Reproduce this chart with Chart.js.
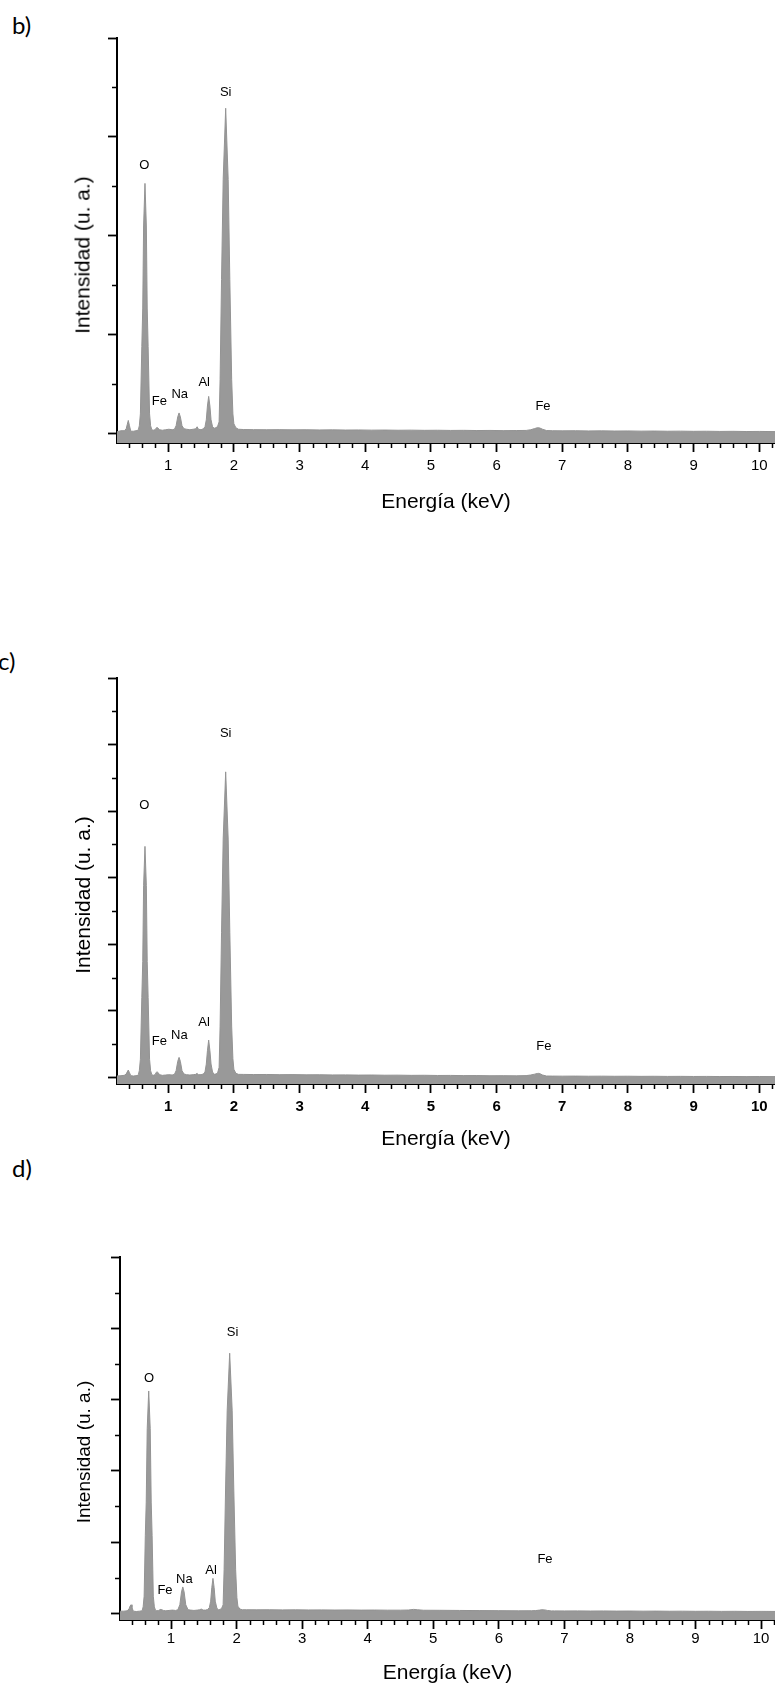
<!DOCTYPE html>
<html lang="es">
<head>
<meta charset="UTF-8">
<title>Espectros EDS</title>
<script src="https://cdn.jsdelivr.net/npm/chart.js"></script>
<style>
body {
    margin: 0;
    width: 775px;
    height: 1686px;
    overflow: hidden;
    position: relative;
    background: #fff;
    font-family: 'Liberation Sans', Arial, sans-serif;
    color: #000;
}
canvas {
    position: absolute;
    left: 0;
}
.panel-label {
    position: absolute;
    font-family: Lato, 'Open Sans', sans-serif;
    font-size: 24px;
    line-height: 1;
}
.ytitle {
    position: absolute;
    transform: translate(-50%, -50%) rotate(-90deg);
    white-space: nowrap;
    font-size: 21px;
    line-height: 1;
}
</style>
</head>
<body>
<div class="panel-label" style="left:12px; top:13px;">b)</div>
<div class="panel-label" style="left:-2px; top:649px;">c)</div>
<div class="panel-label" style="left:12px; top:1156px;">d)</div>

<canvas id="chartB" width="775" height="481" style="top:34px"></canvas>
<canvas id="chartC" width="775" height="478" style="top:674px"></canvas>
<canvas id="chartD" width="775" height="433" style="top:1253px"></canvas>

<div class="ytitle" style="left:82px; top:255px;">Intensidad (u. a.)</div>
<div class="ytitle" style="left:82px; top:895px;">Intensidad (u. a.)</div>
<div class="ytitle" style="left:83px; top:1452px; font-size:19px;">Intensidad (u. a.)</div>

<script>
// ejes comunes
const energiaTicks = [1, 2, 3, 4, 5, 6, 7, 8, 9, 10];
const energiaMinor = [0.4, 0.6, 0.8, 1.2, 1.4, 1.6, 1.8, 2.2, 2.4, 2.6, 2.8, 3.2, 3.4, 3.6, 3.8,
    4.2, 4.4, 4.6, 4.8, 5.2, 5.4, 5.6, 5.8, 6.2, 6.4, 6.6, 6.8, 7.2, 7.4, 7.6, 7.8,
    8.2, 8.4, 8.6, 8.8, 9.2, 9.4, 9.6, 9.8, 10.2];
const etiquetas = ['O', 'Si', 'Fe', 'Na', 'Al', 'Fe'];

// b)
const ticksB = [0, 1, 2, 3, 4];
const minorB = [0.5, 1.5, 2.5, 3.5];
const energiaB = [
    0.22, 0.28, 0.33, 0.36, 0.375, 0.392, 0.41, 0.43, 0.47, 0.51, 0.54,
    0.545, 0.56, 0.576, 0.598, 0.612, 0.625, 0.646, 0.667, 0.68, 0.694, 0.716, 0.732, 0.75,
    0.77, 0.80, 0.815, 0.83, 0.845, 0.87, 0.91, 0.96, 1.01, 1.06, 1.095,
    1.12, 1.145, 1.165, 1.185, 1.21, 1.24,
    1.28, 1.33, 1.38, 1.42, 1.44, 1.46, 1.5, 1.535,
    1.56, 1.58, 1.597, 1.616, 1.635, 1.652, 1.675, 1.70, 1.72,
    1.75, 1.775, 1.79, 1.812, 1.837, 1.875, 1.913, 1.938, 1.966, 1.985, 2.0, 2.03, 2.07,
    2.15, 2.3, 2.5, 2.7, 2.9, 3.1, 3.3, 3.5, 3.7, 3.9, 4.1, 4.3, 4.5, 4.7, 4.9, 5.1, 5.3, 5.5, 5.7, 5.9, 6.1, 6.3, 6.45,
    6.52, 6.58, 6.62, 6.64, 6.66, 6.7, 6.76,
    6.85, 7.0, 7.2, 7.4, 7.6, 7.8, 8.0, 8.2, 8.4, 8.6, 8.8, 9.0, 9.2, 9.4, 9.6, 9.8, 10.0, 10.24
];
const intensidadB = [
    0.02, 0.03, 0.03, 0.05, 0.09, 0.134, 0.08, 0.025, 0.025, 0.03, 0.035,
    0.04, 0.08, 0.2, 0.88, 1.27, 2.1, 2.53, 2.1, 1.27, 0.88, 0.2, 0.08, 0.04,
    0.035, 0.04, 0.055, 0.065, 0.055, 0.04, 0.035, 0.04, 0.045, 0.04, 0.045,
    0.08, 0.17, 0.21, 0.17, 0.08, 0.05,
    0.045, 0.04, 0.045, 0.05, 0.07, 0.045, 0.04, 0.05,
    0.07, 0.14, 0.28, 0.377, 0.28, 0.14, 0.07, 0.055, 0.06,
    0.07, 0.12, 0.55, 1.56, 2.57, 3.29, 2.57, 1.56, 0.55, 0.2, 0.1, 0.06, 0.045,
    0.042, 0.041, 0.04, 0.041, 0.039, 0.04, 0.038, 0.039, 0.037, 0.038, 0.036, 0.037, 0.035, 0.036, 0.034, 0.035, 0.033, 0.034, 0.032, 0.033, 0.031, 0.032, 0.033,
    0.04, 0.052, 0.06, 0.061, 0.057, 0.045, 0.032,
    0.03, 0.029, 0.03, 0.028, 0.029, 0.027, 0.028, 0.026, 0.027, 0.025, 0.026, 0.024, 0.025, 0.023, 0.024, 0.022, 0.023, 0.021
];
const etiqXB = [0.636, 1.875, 0.864, 1.175, 1.548, 6.707];
const etiqYB = [2.71, 3.45, 0.33, 0.40, 0.52, 0.28];

// c)
const ticksC = [0, 1, 2, 3, 4, 5, 6];
const minorC = [0.5, 1.5, 2.5, 3.5, 4.5, 5.5];
const energiaC = energiaB;
const intensidadC = [
    0.02, 0.025, 0.03, 0.05, 0.08, 0.11, 0.07, 0.025, 0.02, 0.025, 0.03,
    0.04, 0.1, 0.27, 1.2, 1.74, 2.88, 3.47, 2.88, 1.74, 1.2, 0.27, 0.1, 0.04,
    0.03, 0.04, 0.07, 0.085, 0.07, 0.04, 0.03, 0.035, 0.04, 0.035, 0.045,
    0.1, 0.24, 0.30, 0.24, 0.1, 0.05,
    0.04, 0.035, 0.04, 0.045, 0.06, 0.04, 0.04, 0.05,
    0.08, 0.2, 0.4, 0.56, 0.4, 0.2, 0.08, 0.045, 0.05,
    0.06, 0.15, 0.77, 2.18, 3.58, 4.59, 3.58, 2.18, 0.77, 0.28, 0.12, 0.06, 0.045,
    0.044, 0.042, 0.043, 0.04, 0.041, 0.038, 0.039, 0.036, 0.037, 0.034, 0.035, 0.032, 0.033, 0.03, 0.031, 0.028, 0.029, 0.026, 0.027, 0.024, 0.025, 0.023, 0.026,
    0.035, 0.048, 0.058, 0.06, 0.055, 0.035, 0.02,
    0.019, 0.018, 0.019, 0.017, 0.018, 0.016, 0.017, 0.015, 0.016, 0.014, 0.015, 0.013, 0.014, 0.012, 0.013, 0.011, 0.012, 0.011
];
const etiqXC = [0.636, 1.875, 0.864, 1.169, 1.545, 6.72];
const etiqYC = [4.08, 5.17, 0.535, 0.636, 0.82, 0.47];

// d)
const ticksD = [0, 1, 2, 3, 4, 5];
const minorD = [0.5, 1.5, 2.5, 3.5, 4.5];
const energiaD = [
    0.222, 0.28, 0.33, 0.36, 0.375, 0.39, 0.405, 0.425, 0.47, 0.52, 0.555,
    0.56, 0.575, 0.59, 0.608, 0.622, 0.637, 0.66, 0.683, 0.698, 0.712, 0.73, 0.746, 0.765,
    0.785, 0.81, 0.83, 0.846, 0.86, 0.885, 0.92, 0.97, 1.02, 1.07, 1.105,
    1.135, 1.16, 1.18, 1.2, 1.225, 1.26,
    1.3, 1.35, 1.4, 1.44, 1.46, 1.49, 1.53, 1.56,
    1.585, 1.605, 1.622, 1.64, 1.658, 1.675, 1.7, 1.725, 1.745,
    1.77, 1.795, 1.81, 1.832, 1.857, 1.895, 1.933, 1.958, 1.986, 2.005, 2.02, 2.05, 2.09,
    2.15, 2.3, 2.5, 2.7, 2.9, 3.1, 3.3, 3.5, 3.7, 3.9, 4.1, 4.3, 4.5, 4.62, 4.7, 4.76, 4.85, 5.1, 5.4, 5.7, 6.0, 6.3, 6.5,
    6.56, 6.62, 6.66, 6.68, 6.7, 6.74, 6.8,
    6.85, 7.0, 7.2, 7.4, 7.6, 7.8, 8.0, 8.2, 8.4, 8.6, 8.8, 9.0, 9.2, 9.4, 9.6, 9.8, 10.0, 10.24
];
const intensidadD = [
    0.03, 0.03, 0.035, 0.06, 0.1, 0.12, 0.08, 0.03, 0.025, 0.03, 0.035,
    0.04, 0.09, 0.24, 1.09, 1.56, 2.59, 3.12, 2.59, 1.56, 1.09, 0.24, 0.09, 0.04,
    0.035, 0.04, 0.05, 0.056, 0.05, 0.04, 0.035, 0.04, 0.045, 0.04, 0.05,
    0.12, 0.3, 0.37, 0.3, 0.12, 0.05,
    0.045, 0.04, 0.045, 0.05, 0.06, 0.045, 0.045, 0.055,
    0.08, 0.17, 0.36, 0.49, 0.36, 0.17, 0.07, 0.05, 0.055,
    0.065, 0.12, 0.61, 1.73, 2.85, 3.65, 2.85, 1.73, 0.61, 0.22, 0.1, 0.06, 0.05,
    0.05, 0.049, 0.05, 0.048, 0.049, 0.047, 0.048, 0.046, 0.047, 0.045, 0.046, 0.044, 0.044, 0.046, 0.055, 0.05, 0.043, 0.042, 0.04, 0.038, 0.037, 0.035, 0.036,
    0.038, 0.045, 0.05, 0.05, 0.048, 0.04, 0.034,
    0.034, 0.033, 0.034, 0.032, 0.033, 0.031, 0.032, 0.030, 0.031, 0.029, 0.03, 0.028, 0.029, 0.027, 0.028, 0.026, 0.027, 0.026
];
const etiqXD = [0.664, 1.94, 0.908, 1.203, 1.61, 6.705];
const etiqYD = [3.30, 3.94, 0.327, 0.47, 0.607, 0.76];

// ticks menores y rotulos de picos
const extrasPlugin = {
    id: 'extras',
    afterDraw(chart, args, opts) {
        const { ctx, chartArea, scales: { x, y } } = chart;
        ctx.save();
        ctx.strokeStyle = '#000';
        ctx.lineWidth = 1.5;
        ctx.beginPath();
        opts.xMinor.forEach(v => {
            const px = Math.round(x.getPixelForValue(v)) + 0.5;
            ctx.moveTo(px, chartArea.bottom);
            ctx.lineTo(px, chartArea.bottom + 5);
        });
        opts.yMinor.forEach(v => {
            const py = Math.round(y.getPixelForValue(v)) + 0.5;
            ctx.moveTo(chartArea.left, py);
            ctx.lineTo(chartArea.left - 5, py);
        });
        ctx.stroke();
        ctx.fillStyle = '#000';
        ctx.font = '13px "Liberation Sans", Arial, sans-serif';
        ctx.textAlign = 'center';
        ctx.textBaseline = 'middle';
        opts.labels.forEach((t, i) => {
            ctx.fillText(t, x.getPixelForValue(opts.lx[i]), y.getPixelForValue(opts.ly[i]));
        });
        ctx.restore();
    }
};

function crearPanel(id, p) {
    const puntos = p.energia.map((e, i) => ({ x: e, y: p.intensidad[i] }));
    return new Chart(document.getElementById(id), {
        type: 'line',
        data: {
            datasets: [{
                data: puntos,
                borderColor: '#939393',
                borderWidth: 1,
                borderJoinStyle: 'round',
                backgroundColor: '#999999',
                fill: 'start',
                pointRadius: 0,
                tension: 0
            }]
        },
        options: {
            responsive: false,
            animation: false,
            events: [],
            layout: { padding: { left: p.padLeft, right: 0, top: 4, bottom: 0 } },
            plugins: {
                legend: { display: false },
                tooltip: { enabled: false },
                extras: { xMinor: energiaMinor, yMinor: p.yMinor, labels: etiquetas, lx: p.lx, ly: p.ly }
            },
            scales: {
                x: {
                    type: 'linear',
                    z: 1,
                    min: p.xMin,
                    max: p.xMax,
                    afterBuildTicks: s => { s.ticks = energiaTicks.map(v => ({ value: v })); },
                    grid: { drawOnChartArea: false, tickLength: 9, tickWidth: 1.8, tickColor: '#000' },
                    border: { color: '#000', width: 2 },
                    ticks: {
                        color: '#000',
                        padding: p.tickPad,
                        maxRotation: 0,
                        autoSkip: false,
                        font: { family: "'Liberation Sans', Arial, sans-serif", size: 15, weight: p.tickWeight }
                    },
                    title: {
                        display: true,
                        text: 'Energía (keV)',
                        color: '#000',
                        padding: { top: p.titlePad, bottom: 0 },
                        font: { family: "'Liberation Sans', Arial, sans-serif", size: 21 }
                    }
                },
                y: {
                    type: 'linear',
                    z: 1,
                    min: p.yMin,
                    max: p.yMax,
                    afterBuildTicks: s => { s.ticks = p.yTicks.map(v => ({ value: v })); },
                    grid: { drawOnChartArea: false, tickLength: 9, tickWidth: 1.8, tickColor: '#000' },
                    border: { color: '#000', width: 2 },
                    ticks: { display: false }
                }
            }
        },
        plugins: [extrasPlugin]
    });
}

crearPanel('chartB', {
    energia: energiaB, intensidad: intensidadB, yTicks: ticksB, yMinor: minorB,
    lx: etiqXB, ly: etiqYB, xMin: 0.22, xMax: 10.24, yMin: -0.094, yMax: 4,
    padLeft: 108, tickPad: 5, titlePad: 9.8, tickWeight: 'normal'
});
crearPanel('chartC', {
    energia: energiaC, intensidad: intensidadC, yTicks: ticksC, yMinor: minorC,
    lx: etiqXC, ly: etiqYC, xMin: 0.22, xMax: 10.24, yMin: -0.10, yMax: 6,
    padLeft: 108, tickPad: 5, titlePad: 5.8, tickWeight: 'bold'
});
crearPanel('chartD', {
    energia: energiaD, intensidad: intensidadD, yTicks: ticksD, yMinor: minorD,
    lx: etiqXD, ly: etiqYD, xMin: 0.222, xMax: 10.213, yMin: -0.094, yMax: 5,
    padLeft: 111, tickPad: 1, titlePad: 11.8, tickWeight: 'normal'
});
</script>
</body>
</html>
